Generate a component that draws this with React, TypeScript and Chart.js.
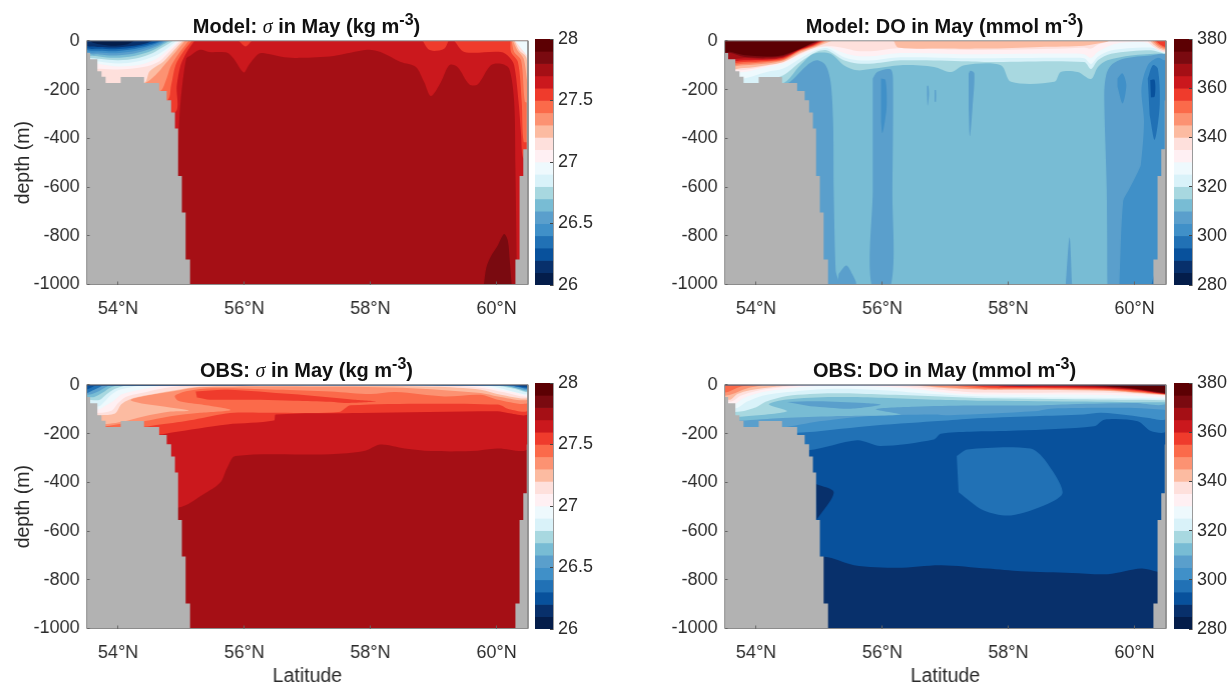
import React, { useEffect, useRef } from "react";
import { Chart, registerables } from "chart.js";

Chart.register(...registerables);

const FONT = '"Liberation Sans", Arial, sans-serif';
const INK = "#2b2b2b";

const latTicks = [54, 56, 58, 60];
const depthTicks = [0, -200, -400, -600, -800, -1000];
const sigmaTicks = [26, 26.5, 27, 27.5, 28];
const doTicks = [280, 300, 320, 340, 360, 380];
const sigmaEdges = [28, 27.9, 27.8, 27.7, 27.6, 27.5, 27.4, 27.3, 27.2, 27.1, 27, 26.9, 26.8, 26.7, 26.6, 26.5, 26.4, 26.3, 26.2, 26.1, 26];
const doEdges = [380, 375, 370, 365, 360, 355, 350, 345, 340, 335, 330, 325, 320, 315, 310, 305, 300, 295, 290, 285, 280];
// band colours, from the top of the colour bar downward
const bandColors = [
  "#5c0003", "#7a0a10", "#a50f15", "#cb181d", "#ef3b2c", "#fb6a4a", "#fc9272", "#fcbba1", "#fee0dc", "#fff0f3",
  "#eef9fd", "#d9f2f9", "#a8d8e0", "#78bcd4", "#5a9fcc", "#4090c8", "#2171b5", "#08519c", "#08306b", "#041d4a",
];
const LAND = "#b2b2b2";

const wholeSection = [53.5, 0, 60.5, 0, 60.5, -1000, 53.5, -1000];
const landLeft = [
  53.5, -50, 53.556, -50, 53.556, -76, 53.67, -76, 53.67, -125, 53.735, -125, 53.735, -148, 53.8, -148, 53.8, -173,
  54.04, -173, 54.04, -149, 54.41, -149, 54.41, -173, 54.65, -173, 54.65, -206, 54.77, -206, 54.77, -244, 54.84, -244,
  54.84, -294, 54.9, -294, 54.9, -360, 54.95, -360, 54.95, -555, 55.01, -555, 55.01, -705, 55.07, -705, 55.07, -897,
  55.14, -897, 55.14, -1000, 53.5, -1000,
];
const landRight = [
  60.5, -245, 60.48, -245, 60.48, -445, 60.425, -445, 60.425, -555, 60.366, -555, 60.366, -897, 60.3, -897, 60.3, -1000,
  60.5, -1000,
];

type Layer = [number, number[]];

const modelSigmaLayers: Layer[] = [
  [4, wholeSection],
  [3, [54.9, -1000, 54.96, -386, 54.99, -250, 55.08, -73, 55.15, -60, 55.3, -37, 55.44, -46, 55.73, -49, 55.83, -73, 55.99, -130, 56.07, -100, 56.23, -53, 56.36, -53, 56.63, -67, 56.89, -70, 57.42, -62, 57.95, -37, 58.16, -46, 58.48, -87, 58.72, -107, 58.85, -168, 58.96, -227, 59.12, -168, 59.25, -100, 59.38, -107, 59.57, -179, 59.7, -179, 59.91, -100, 60.07, -94, 60.2, -114, 60.28, -250, 60.3, -520, 60.32, -900, 60.32, -1000]],
  [2, [59.8, -1000, 59.84, -929, 59.91, -885, 60.02, -840, 60.12, -793, 60.18, -820, 60.21, -902, 60.24, -1000]],
  [5, [55.91, 0, 56.02, -23, 56.12, 0]],
  [5, [58.83, 0, 58.91, -33, 59.01, -42, 59.17, -33, 59.24, 0]],
  [5, [59.33, 0, 59.49, -46, 60.07, -46, 60.2, -66, 60.28, -100, 60.35, -250, 60.39, -385, 60.42, -480, 60.5, -480, 60.5, 0]],
  [6, [60.22, 0, 60.23, -46, 60.34, -87, 60.4, -250, 60.43, -413, 60.5, -413, 60.5, 0]],
  [7, [60.24, 0, 60.28, -46, 60.39, -80, 60.45, -250, 60.5, -250, 60.5, 0]],
  [8, [60.26, 0, 60.33, -39, 60.43, -73, 60.49, -168, 60.5, -168, 60.5, 0]],
  [9, [60.285, 0, 60.36, -39, 60.47, -66, 60.5, -115, 60.5, 0]],
  [11, [60.295, 0, 60.415, -39, 60.5, -60, 60.5, 0]],
  [5, [55.21, 0, 55.09, -46, 54.99, -100, 54.93, -182, 54.89, -295, 53.5, -295, 53.5, 0]],
  [6, [55.17, 0, 55.03, -46, 54.91, -100, 54.84, -182, 54.77, -244, 53.5, -244, 53.5, 0]],
  [7, [55.12, 0, 54.96, -53, 54.83, -107, 54.75, -168, 54.66, -206, 53.5, -206, 53.5, 0]],
  [8, [55.06, 0, 54.91, -46, 54.75, -94, 54.59, -141, 54.41, -173, 53.5, -173, 53.5, 0]],
  [9, [55.03, 0, 54.88, -40, 54.72, -85, 54.5, -125, 54.41, -173, 53.5, -173, 53.5, 0]],
  [10, [54.99, 0, 54.83, -40, 54.65, -85, 54.4, -108, 54, -118, 53.7, -115, 53.5, -115, 53.5, 0]],
  [11, [54.96, 0, 54.78, -40, 54.6, -75, 54.35, -98, 54, -105, 53.7, -95, 53.5, -80, 53.5, 0]],
  [12, [54.92, 0, 54.74, -38, 54.58, -62, 54.3, -85, 54, -93, 53.7, -85, 53.5, -72, 53.5, 0]],
  [13, [54.87, 0, 54.7, -28, 54.55, -50, 54.3, -72, 54, -80, 53.7, -74, 53.5, -62, 53.5, 0]],
  [14, [54.82, 0, 54.67, -22, 54.52, -42, 54.25, -62, 53.95, -70, 53.7, -64, 53.5, -54, 53.5, 0]],
  [15, [54.78, 0, 54.65, -18, 54.5, -34, 54.25, -52, 53.95, -60, 53.7, -56, 53.5, -50, 53.5, 0]],
  [16, [54.75, 0, 54.63, -14, 54.48, -28, 54.22, -44, 53.95, -51, 53.7, -48, 53.5, -44, 53.5, 0]],
  [17, [54.72, 0, 54.6, -11, 54.46, -22, 54.2, -36, 53.95, -43, 53.7, -41, 53.5, -36, 53.5, 0]],
  [18, [54.68, 0, 54.58, -8, 54.42, -18, 54.18, -30, 53.95, -35, 53.7, -33, 53.5, -30, 53.5, 0]],
  [19, [54.55, 0, 54.45, -10, 54.25, -20, 53.95, -27, 53.7, -25, 53.5, -20, 53.5, 0]],
  [20, [54.25, 0, 54.15, -14, 53.95, -20, 53.75, -16, 53.6, -8, 53.55, 0]],
];

const modelOxygenLayers: Layer[] = [
  [14, wholeSection],
  [15, [54.41, -180, 54.54, -168, 54.81, -100, 54.96, -80, 55.1, -100, 55.18, -168, 55.22, -331, 55.23, -616, 55.26, -942, 55.29, -1000, 54.4, -1000]],
  [15, [55.31, -956, 55.43, -922, 55.52, -956, 55.58, -1000, 55.29, -1000]],
  [15, [55.85, -155, 55.92, -128, 56.13, -117, 56.17, -155, 56.16, -616, 56.14, -1000, 55.83, -1000, 55.85, -616]],
  [16, [55.98, -155, 56.05, -161, 56.07, -263, 56.04, -331, 56, -379, 55.98, -331]],
  [15, [56.71, -185, 56.73, -185, 56.74, -220, 56.72, -265, 56.71, -220]],
  [15, [56.83, -202, 56.85, -202, 56.85, -250, 56.83, -250]],
  [15, [57.37, -134, 57.4, -123, 57.46, -134, 57.43, -277, 57.39, -392, 57.37, -277]],
  [15, [58.91, -1000, 58.97, -807, 59.01, -1000]],
  [15, [59.57, -1000, 59.56, -616, 59.52, -222, 59.55, -141, 59.63, -100, 59.84, -73, 60.26, -60, 60.5, -60, 60.5, -1000]],
  [16, [59.73, -155, 59.81, -134, 59.87, -182, 59.81, -257, 59.73, -188]],
  [16, [59.76, -1000, 59.82, -657, 59.9, -616, 60.06, -535, 60.1, -508, 60.15, -331, 60.11, -195, 60.21, -100, 60.37, -70, 60.47, -80, 60.5, -80, 60.5, -1000]],
  [17, [60.21, -155, 60.29, -100, 60.37, -114, 60.4, -263, 60.32, -406, 60.24, -304]],
  [18, [60.25, -161, 60.32, -161, 60.32, -229, 60.26, -233]],
  [17, [60.27, -1000, 60.32, -956, 60.32, -1000]],
  [13, [53.5, -175, 54.41, -175, 54.7, -100, 54.91, -53, 55.18, -53, 55.39, -100, 55.6, -121, 55.87, -114, 56.29, -100, 56.82, -107, 57.09, -128, 57.3, -100, 57.88, -100, 58.04, -168, 58.73, -168, 58.83, -128, 59.1, -128, 59.31, -157, 59.42, -107, 59.57, -80, 59.95, -60, 60.42, -52, 60.5, -52, 60.5, 0, 53.5, 0]],
  [12, [53.5, -175, 54.0, -175, 54.43, -141, 54.7, -87, 54.96, -45, 55.12, -39, 55.39, -80, 55.6, -93, 55.87, -93, 56.29, -80, 57.35, -84, 57.61, -87, 59.2, -87, 59.31, -116, 59.42, -80, 59.63, -53, 60.26, -39, 60.5, -50, 60.5, 0, 53.5, 0]],
  [11, [53.5, -155, 53.8, -155, 54.17, -128, 54.43, -114, 54.7, -73, 54.96, -38, 55.12, -30, 55.39, -68, 55.6, -80, 55.87, -80, 56.29, -68, 57.35, -72, 58.9, -70, 59.2, -72, 59.31, -95, 59.42, -65, 59.63, -40, 60.26, -28, 60.5, -48, 60.5, 0, 53.5, 0]],
  [10, [53.5, -128, 53.8, -128, 54.17, -107, 54.43, -93, 54.7, -60, 54.96, -32, 55.12, -22, 55.39, -50, 55.6, -62, 55.87, -62, 56.29, -50, 57.35, -55, 58.9, -52, 59.2, -55, 59.31, -70, 59.42, -45, 59.63, -18, 59.8, -8, 60.15, -6, 60.3, -20, 60.5, -46, 60.5, 0, 53.5, 0]],
  [9, [53.5, -120, 53.8, -120, 54.17, -102, 54.43, -88, 54.7, -54, 54.96, -28, 55.2, -22, 55.39, -30, 55.6, -42, 55.87, -42, 56.29, -30, 57.35, -38, 58.9, -32, 59.2, -28, 59.31, -32, 59.42, -15, 59.55, -5, 59.6, 0, 53.5, 0]],
  [9, [60.2, 0, 60.28, -20, 60.42, -42, 60.5, -45, 60.5, 0]],
  [8, [56.18, 0, 56.25, -27, 57, -32, 57.6, -32, 58.5, -25, 59.2, -20, 59.55, -5, 59.6, 0]],
  [8, [60.25, 0, 60.3, -15, 60.42, -35, 60.5, -38, 60.5, 0]],
  [7, [60.28, 0, 60.34, -15, 60.43, -30, 60.5, -33, 60.5, 0]],
  [6, [60.31, 0, 60.37, -14, 60.45, -26, 60.5, -28, 60.5, 0]],
  [5, [60.34, 0, 60.39, -12, 60.46, -22, 60.5, -24, 60.5, 0]],
  [8, [55.2, 0, 54.96, -24, 54.7, -50, 54.43, -87, 54.17, -100, 53.8, -112, 53.5, -112, 53.5, 0]],
  [7, [55.13, 0, 54.94, -22, 54.7, -44, 54.43, -81, 54.17, -93, 53.8, -100, 53.5, -100, 53.5, 0]],
  [6, [55.09, 0, 54.92, -21, 54.7, -40, 54.43, -78, 54.17, -87, 53.8, -94, 53.5, -94, 53.5, 0]],
  [5, [55.06, 0, 54.9, -20, 54.7, -38, 54.43, -74, 54.17, -83, 53.8, -87, 53.5, -87, 53.5, 0]],
  [4, [55.04, 0, 54.89, -18, 54.7, -36, 54.43, -70, 54.17, -78, 53.8, -80, 53.5, -80, 53.5, 0]],
  [3, [55.02, 0, 54.88, -16, 54.7, -34, 54.43, -66, 54.17, -74, 53.8, -72, 53.5, -72, 53.5, 0]],
  [2, [55, 0, 54.87, -14, 54.7, -33, 54.43, -62, 54.17, -69, 53.8, -65, 53.6, -50, 53.5, -50, 53.5, 0]],
  [1, [54.98, 0, 54.86, -12, 54.7, -32, 54.43, -58, 54.17, -64, 53.8, -58, 53.59, -45, 53.5, -45, 53.5, 0]],
];

const obsSigmaLayers: Layer[] = [
  [3, wholeSection],
  [4, [53.5, -503, 54.96, -503, 55.36, -448, 55.62, -401, 55.73, -340, 55.86, -292, 57.37, -285, 57.9, -272, 58.16, -245, 58.54, -261, 58.96, -272, 59.6, -272, 60.02, -261, 60.5, -261, 60.5, 0, 53.5, 0]],
  [5, [53.5, -204, 54.67, -204, 54.83, -197, 55.73, -163, 56.47, -147, 56.5, -122, 57.85, -116, 60.02, -109, 60.18, -116, 60.5, -120, 60.5, 0, 53.5, 0]],
  [6, [53.5, -172, 54.4, -172, 54.67, -163, 55.2, -143, 55.78, -116, 56.47, -115, 57.5, -112, 57.69, -84, 60.02, -81, 60.2, -100, 60.5, -105, 60.5, 0, 53.5, 0]],
  [5, [55.23, -27, 55.73, -20, 56.74, -38, 57.74, -61, 58.1, -68, 57.6, -75, 57.37, -70, 56.79, -65, 56.26, -61, 55.46, -61, 55.25, -52]],
  [7, [53.5, -175, 53.8, -170, 54.06, -160, 54.4, -150, 54.83, -129, 55.3, -115, 55.78, -103, 55.3, -80, 54.95, -65, 54.9, -45, 55.1, -25, 55.5, -14, 56.5, -20, 57.37, -27, 58, -38, 58.4, -30, 59.17, -48, 59.75, -41, 60.02, -61, 60.5, -75, 60.5, 0, 53.5, 0]],
  [8, [53.5, -165, 53.86, -160, 54.06, -152, 54.4, -130, 54.83, -110, 55.12, -106, 54.75, -90, 54.4, -78, 54.2, -62, 54.5, -42, 54.9, -25, 55.3, -10, 57, -8, 58.5, -12, 59.75, -34, 60.02, -48, 60.5, -61, 60.5, 0, 53.5, 0]],
  [9, [53.5, -125, 53.7, -125, 53.95, -118, 54.05, -80, 54.18, -60, 54.4, -45, 54.9, -22, 55.3, -8, 57, -5, 59, -8, 59.75, -20, 60.07, -41, 60.5, -54, 60.5, 0, 53.5, 0]],
  [10, [53.5, -115, 53.7, -115, 53.9, -105, 54, -75, 54.12, -50, 54.35, -35, 54.7, -15, 55, -5, 55.3, -3, 59.2, -3, 59.8, -14, 60.1, -30, 60.5, -48, 60.5, 0, 53.5, 0]],
  [11, [53.5, -100, 53.7, -100, 53.8, -85, 53.93, -65, 54.05, -40, 54.25, -25, 54.6, -8, 54.8, -2, 59.6, -2, 60.02, -18, 60.3, -32, 60.5, -43, 60.5, 0, 53.5, 0]],
  [12, [53.5, -88, 53.7, -88, 53.78, -70, 53.87, -45, 54, -22, 54.2, -10, 54.4, -2, 59.8, -2, 60.02, -11, 60.23, -25, 60.5, -38, 60.5, 0, 53.5, 0]],
  [13, [53.5, -60, 53.7, -62, 53.82, -38, 53.92, -20, 54.05, -8, 54.15, -2, 59.9, -2, 60.1, -7, 60.34, -20, 60.5, -30, 60.5, 0, 53.5, 0]],
  [14, [53.5, -50, 53.62, -50, 53.77, -30, 53.85, -15, 53.95, -5, 54, -2, 60, -2, 60.15, -6, 60.34, -16, 60.5, -27, 60.5, 0, 53.5, 0]],
  [15, [53.5, -40, 53.55, -40, 53.7, -25, 53.8, -10, 53.88, -3, 60.1, -3, 60.23, -8, 60.5, -22, 60.5, 0, 53.5, 0]],
  [17, [53.5, -35, 53.62, -20, 53.72, -8, 53.78, -2, 60.15, -2, 60.3, -7, 60.5, -16, 60.5, 0, 53.5, 0]],
  [18, [53.5, -20, 53.6, -8, 53.65, -3, 60.2, -3, 60.5, -12, 60.5, 0, 53.5, 0]],
  [19, [53.5, -4, 60.3, -3, 60.5, -6, 60.5, 0, 53.5, 0]],
];

const obsOxygenLayers: Layer[] = [
  [19, wholeSection],
  [18, [53.5, -706, 55.08, -706, 55.55, -740, 56.24, -751, 56.93, -740, 57.67, -754, 58.2, -765, 59, -772, 59.58, -777, 60.11, -754, 60.37, -767, 60.5, -767, 60.5, 0, 53.5, 0]],
  [19, [54.95, -407, 55.23, -441, 54.96, -554]],
  [17, [53.5, -269, 54.83, -269, 55.6, -228, 55.97, -251, 56.82, -224, 56.93, -201, 57.4, -193, 58.14, -188, 59.36, -170, 59.52, -143, 60.05, -150, 60.26, -190, 60.5, -190, 60.5, 0, 53.5, 0]],
  [17, [57.18, -292, 57.35, -265, 58.35, -261, 58.57, -306, 58.86, -441, 58.62, -489, 58.04, -536, 57.61, -516, 57.21, -441]],
  [16, [53.5, -197, 54.66, -197, 55.76, -170, 56.82, -150, 57.4, -139, 58.41, -129, 59.2, -122, 59.47, -115, 59.9, -125, 60.2, -135, 60.5, -139, 60.5, 0, 53.5, 0]],
  [15, [53.5, -175, 54.41, -175, 55, -150, 55.76, -129, 56.8, -122, 57.08, -125, 58.41, -109, 58.67, -98, 59.2, -95, 60, -95, 60.47, -102, 60.5, -102, 60.5, 0, 53.5, 0]],
  [14, [53.5, -147, 53.75, -147, 54.43, -136, 55.23, -129, 56.29, -122, 55.9, -100, 56.5, -90, 57.4, -85, 58.4, -85, 59, -80, 60, -75, 60.5, -78, 60.5, 0, 53.5, 0]],
  [15, [54.49, -71, 54.96, -68, 55.71, -75, 55.97, -82, 55.5, -98, 54.86, -88]],
  [13, [53.5, -130, 53.8, -130, 54.49, -109, 54.2, -80, 54.49, -60, 55.23, -50, 56, -53, 56.82, -61, 57.6, -65, 60.47, -72, 60.5, -72, 60.5, 0, 53.5, 0]],
  [12, [53.5, -110, 53.75, -110, 54, -92, 54.15, -70, 54.49, -46, 55.23, -35, 56, -40, 56.82, -47, 57.6, -55, 60.47, -63, 60.5, -63, 60.5, 0, 53.5, 0]],
  [11, [53.5, -95, 53.7, -95, 53.85, -70, 54.1, -45, 54.5, -30, 55.23, -16, 56, -22, 56.82, -38, 57.6, -48, 60.47, -57, 60.5, -57, 60.5, 0, 53.5, 0]],
  [10, [53.5, -80, 53.65, -80, 53.8, -55, 54.1, -30, 54.5, -15, 54.9, -6, 55.6, -5, 56.4, -14, 57.1, -35, 57.6, -40, 59.5, -42, 60.47, -50, 60.5, -50, 60.5, 0, 53.5, 0]],
  [9, [53.5, -68, 53.62, -68, 53.75, -45, 54, -25, 54.4, -10, 54.85, -3, 55.9, -3, 56.4, -8, 57.1, -24, 57.6, -32, 59.5, -32, 60.47, -44, 60.5, -44, 60.5, 0, 53.5, 0]],
  [8, [53.5, -60, 53.6, -60, 53.7, -38, 53.9, -22, 54.3, -8, 54.7, 0, 53.5, 0]],
  [8, [56.4, 0, 56.9, -12, 57.6, -20, 59.5, -24, 60.47, -42, 60.5, -42, 60.5, 0]],
  [7, [53.5, -45, 53.6, -40, 53.85, -15, 54.1, 0, 53.5, 0]],
  [7, [56.5, 0, 57, -10, 57.6, -18, 59.5, -22, 60.47, -40, 60.5, -40, 60.5, 0]],
  [6, [53.5, -32, 53.55, -30, 53.75, -8, 53.95, 0, 53.5, 0]],
  [6, [57, 0, 57.6, -14, 59.5, -19, 60.47, -39, 60.5, -39, 60.5, 0]],
  [5, [57.3, 0, 57.7, -11, 59.5, -16, 60, -24, 60.47, -38, 60.5, -38, 60.5, 0]],
  [4, [57.6, 0, 58, -8, 59.5, -13, 60, -21, 60.47, -37, 60.5, -37, 60.5, 0]],
  [3, [58.3, 0, 59, -6, 59.5, -10, 60, -19, 60.47, -36, 60.5, -36, 60.5, 0]],
  [2, [59, 0, 59.5, -7, 60, -17, 60.47, -35, 60.5, -35, 60.5, 0]],
  [1, [59.3, 0, 59.7, -8, 60, -15, 60.47, -33, 60.5, -33, 60.5, 0]],
  [19, [53.5, -3, 60.5, -3, 60.5, 0, 53.5, 0]],
];

function toPoints(flat: number[]) {
  const points = [];
  for (let i = 0; i < flat.length; i += 2) points.push({ x: flat[i], y: flat[i + 1] });
  return points;
}

function polygon(flat: number[], color: string, order: number, tension: number) {
  return {
    type: "scatter",
    data: toPoints(flat),
    showLine: true,
    fill: "shape",
    backgroundColor: color,
    borderColor: color,
    borderWidth: 0,
    pointRadius: 0,
    tension,
    order,
  };
}

const TOP_PAD = 19;

function Section({ left, top, plotLeft, layers, showDepth, showLat }: any) {
  const ref = useRef<HTMLCanvasElement>(null);
  const width = plotLeft + 448 - left;
  const height = showLat ? 688 - top : 330 - top;
  useEffect(() => {
    const all: Layer[] = [...layers, [0, landLeft], [0, landRight]];
    const n = all.length;
    const datasets: any[] = all.map(([band, flat], i) =>
      polygon(
        flat,
        band === 0 ? LAND : bandColors[band - 1],
        n - i + 1,
        band === 0 || flat === wholeSection ? 0 : 0.3
      )
    );
    datasets.push({
      type: "scatter",
      data: toPoints([...wholeSection, 53.5, 0]),
      showLine: true,
      fill: false,
      borderColor: "#8c8c8c",
      borderWidth: 1,
      pointRadius: 0,
      tension: 0,
      clip: false,
      order: 0,
    });
    const chart = new Chart(ref.current as HTMLCanvasElement, {
      type: "scatter",
      data: { datasets },
      options: {
        animation: false,
        responsive: false,
        events: [],
        layout: { padding: { top: TOP_PAD, right: 7, left: 0, bottom: 0 } },
        plugins: { legend: { display: false }, tooltip: { enabled: false }, filler: { propagate: false } },
        scales: {
          x: {
            type: "linear",
            min: 53.5,
            max: 60.5,
            afterBuildTicks: (s: any) => { s.ticks = latTicks.map((value) => ({ value })); },
            afterFit: (s: any) => { s.height = height - TOP_PAD - 245.5; },
            grid: { drawOnChartArea: false, drawTicks: true, tickLength: -3, tickColor: "#666", z: 1 },
            border: { display: false },
            ticks: {
              maxRotation: 0,
              autoSkip: false,
              padding: 17,
              color: INK,
              font: { family: FONT, size: 18 },
              callback: (v: any) => `${v}°N`,
            },
            title: {
              display: !!showLat,
              text: "Latitude",
              color: INK,
              font: { family: FONT, size: 19.5 },
              padding: { top: 0, bottom: 0 },
            },
          },
          y: {
            type: "linear",
            min: -1000,
            max: 0,
            afterBuildTicks: (s: any) => { s.ticks = depthTicks.map((value) => ({ value })); },
            afterFit: (s: any) => { s.width = plotLeft - left; },
            grid: { drawOnChartArea: false, drawTicks: true, tickLength: -3, tickColor: "#666", z: 1 },
            border: { display: false },
            ticks: { padding: 10, color: INK, font: { family: FONT, size: 18 }, callback: (v: any) => String(v) },
            title: {
              display: !!showDepth,
              text: "depth (m)",
              color: INK,
              font: { family: FONT, size: 19.5 },
              padding: { top: 12, bottom: 0 },
            },
          },
        },
      } as any,
    } as any);
    return () => chart.destroy();
  }, []);
  return <canvas ref={ref} width={width} height={height} style={{ position: "absolute", left, top, width, height }} />;
}

function ColorBar({ left, top, edges, ticks }: any) {
  const ref = useRef<HTMLCanvasElement>(null);
  useEffect(() => {
    const datasets = bandColors.map((color, i) => ({
      data: [[edges[i + 1], edges[i]]],
      backgroundColor: color,
      borderWidth: 0,
      barPercentage: 1,
      categoryPercentage: 1,
    }));
    const chart = new Chart(ref.current as HTMLCanvasElement, {
      type: "bar",
      data: { labels: [""], datasets },
      options: {
        animation: false,
        responsive: false,
        events: [],
        layout: { padding: { top: TOP_PAD, bottom: 20, left: 2, right: 0 } },
        plugins: { legend: { display: false }, tooltip: { enabled: false } },
        scales: {
          x: { display: false, stacked: true },
          y: {
            position: "right",
            stacked: false,
            min: edges[edges.length - 1],
            max: edges[0],
            afterBuildTicks: (s: any) => { s.ticks = ticks.map((value: number) => ({ value })); },
            afterFit: (s: any) => { s.width = 45; },
            grid: { drawOnChartArea: false, drawTicks: true, tickLength: -3, tickColor: "#444", z: 1 },
            border: { display: true, color: "#9a9a9a", z: 1 },
            ticks: { padding: 8, color: INK, font: { family: FONT, size: 18 }, callback: (v: any) => String(v) },
          },
        },
      } as any,
    } as any);
    return () => chart.destroy();
  }, []);
  return <canvas ref={ref} width={65} height={285} style={{ position: "absolute", left, top, width: 65, height: 285 }} />;
}

function Title({ left, top, head, sigma, tail }: any) {
  return (
    <div
      style={{
        position: "absolute",
        left,
        top,
        width: 441,
        textAlign: "center",
        font: `bold 20px ${FONT}`,
        color: "#111",
        lineHeight: "22px",
        whiteSpace: "nowrap",
      }}
    >
      {head}
      {sigma ? <span style={{ fontFamily: '"Liberation Serif", serif', fontStyle: "italic", fontWeight: 400 }}>σ</span> : null}
      {tail}
      <span style={{ fontSize: 16, position: "relative", top: -8 }}>-3</span>)
    </div>
  );
}

export default function App() {
  return (
    <div style={{ position: "absolute", left: 0, top: 0, width: 1228, height: 684, background: "#fff", overflow: "hidden" }}>
      <Section left={0} top={20} plotLeft={86.5} layers={modelSigmaLayers} showDepth />
      <ColorBar left={533} top={20} edges={sigmaEdges} ticks={sigmaTicks} />
      <Section left={650} top={20} plotLeft={724.5} layers={modelOxygenLayers} />
      <ColorBar left={1172} top={20} edges={doEdges} ticks={doTicks} />
      <Section left={0} top={364} plotLeft={86.5} layers={obsSigmaLayers} showDepth showLat />
      <ColorBar left={533} top={364} edges={sigmaEdges} ticks={sigmaTicks} />
      <Section left={650} top={364} plotLeft={724.5} layers={obsOxygenLayers} showLat />
      <ColorBar left={1172} top={364} edges={doEdges} ticks={doTicks} />
      <Title left={86} top={15} head="Model: " sigma tail=" in May (kg m" />
      <Title left={724} top={15} head="Model: DO in May (mmol m" />
      <Title left={86} top={359} head="OBS: " sigma tail=" in May (kg m" />
      <Title left={724} top={359} head="OBS: DO in May (mmol m" />
    </div>
  );
}
